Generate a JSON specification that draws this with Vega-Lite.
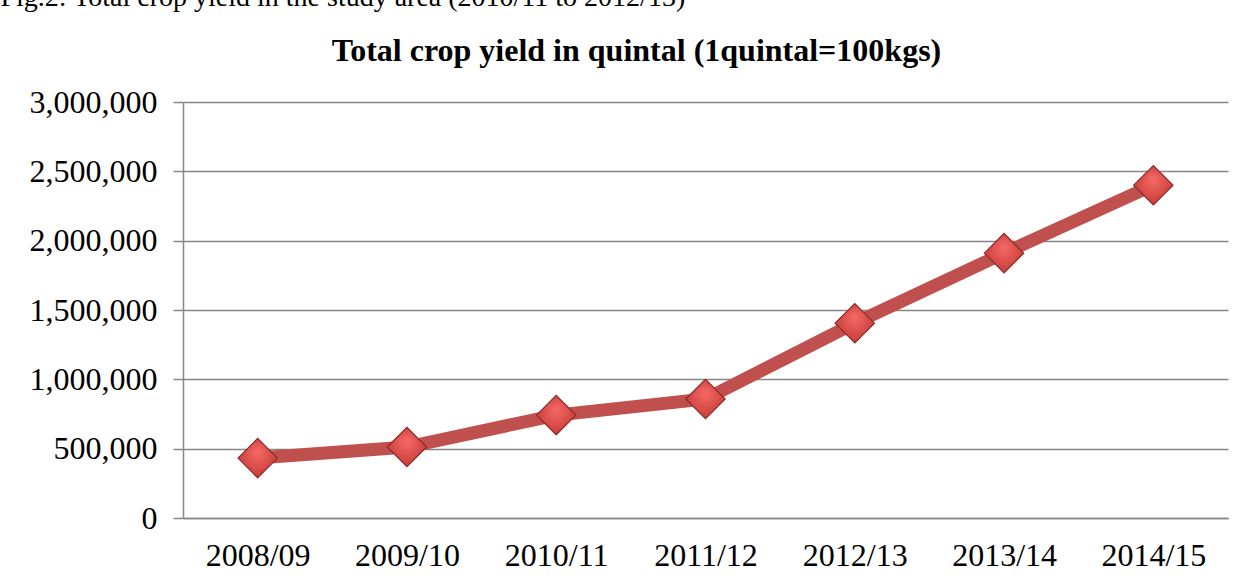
{
  "$schema": "https://vega.github.io/schema/vega-lite/v6.json",
  "autosize": {"type": "none"},
  "width": 1045,
  "height": 416,
  "padding": {"left": 183, "top": 102, "right": 16, "bottom": 64},
  "background": "white",
  "title": {
    "text": "Total crop yield in quintal (1quintal=100kgs)",
    "anchor": "middle",
    "frame": "group",
    "dx": -69,
    "offset": -110,
    "baseline": "alphabetic",
    "font": "Liberation Serif",
    "fontSize": 32,
    "fontWeight": "bold",
    "color": "black"
  },
  "config": {
    "view": {"stroke": null},
    "font": "Liberation Serif"
  },
  "data": {
    "values": [
      {"year": "2008/09", "yield": 432000},
      {"year": "2009/10", "yield": 512000},
      {"year": "2010/11", "yield": 742000},
      {"year": "2011/12", "yield": 858000},
      {"year": "2012/13", "yield": 1405000},
      {"year": "2013/14", "yield": 1910000},
      {"year": "2014/15", "yield": 2400000}
    ]
  },
  "encoding": {
    "x": {
      "field": "year",
      "type": "ordinal",
      "scale": {"paddingInner": 0, "paddingOuter": 0.5},
      "axis": {
        "title": null,
        "labelAngle": 0,
        "labelFont": "Liberation Serif",
        "labelFontSize": 32,
        "labelColor": "black",
        "labelPadding": 22,
        "ticks": false,
        "domainColor": "#868686",
        "domainWidth": 1.5,
        "grid": false
      }
    },
    "y": {
      "field": "yield",
      "type": "quantitative",
      "scale": {"domain": [0, 3000000], "nice": false},
      "axis": {
        "title": "Fig.2: Total crop yield in the study area (2010/11 to 2012/13)",
        "titleAngle": 0,
        "titleX": -183,
        "titleY": -97,
        "titleAlign": "left",
        "titleBaseline": "alphabetic",
        "titleFont": "Liberation Serif",
        "titleFontSize": 28,
        "titleFontWeight": "normal",
        "titleColor": "black",
        "values": [0, 500000, 1000000, 1500000, 2000000, 2500000, 3000000],
        "format": ",d",
        "labelFont": "Liberation Serif",
        "labelFontSize": 32,
        "labelColor": "black",
        "labelPadding": 16,
        "tickSize": 10,
        "tickColor": "#868686",
        "tickWidth": 1.5,
        "domainColor": "#868686",
        "domainWidth": 1.5,
        "grid": true,
        "gridColor": "#868686",
        "gridWidth": 1.5
      }
    }
  },
  "layer": [
    {
      "mark": {"type": "line", "color": "#c0504d", "strokeWidth": 13}
    },
    {
      "mark": {
        "type": "point",
        "shape": "diamond",
        "size": 1550,
        "filled": true,
        "fill": {
          "gradient": "radial",
          "x1": 0.5, "y1": 0.35, "r1": 0.05,
          "x2": 0.5, "y2": 0.5, "r2": 0.7,
          "stops": [
            {"offset": 0, "color": "#f26562"},
            {"offset": 1, "color": "#b8302d"}
          ]
        },
        "stroke": "#8c2a28",
        "strokeWidth": 1.2,
        "opacity": 1
      }
    }
  ]
}
